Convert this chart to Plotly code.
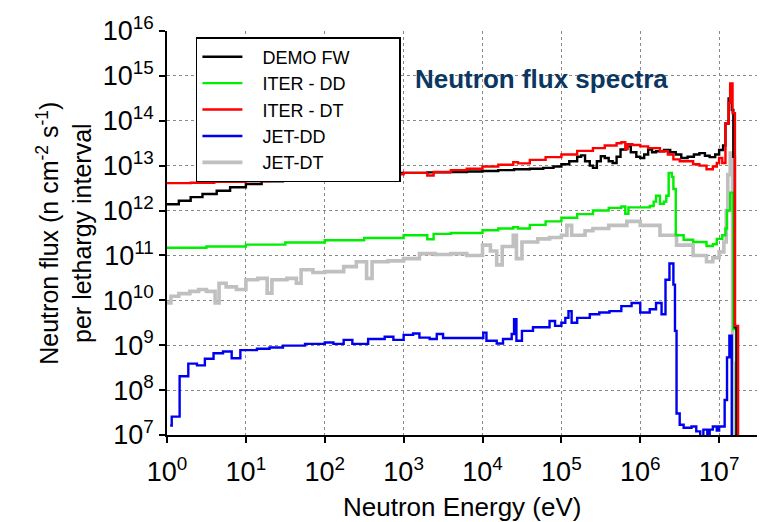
import numpy as np
import plotly.graph_objects as go

# ---- data (log10 of energy in eV, log10 of flux) ----
demo_logE = [0.0, 0.15, 0.3, 0.45, 0.63, 0.8, 1.0, 1.2, 1.47, 1.7, 2.0, 2.3, 2.6, 3.0, 3.3, 3.59, 3.8, 4.0,
             4.2, 4.4, 4.6, 4.77, 4.9, 5.0, 5.1, 5.2, 5.25, 5.3, 5.36, 5.4, 5.45, 5.5, 5.55, 5.6, 5.65, 5.7,
             5.75, 5.82, 5.88, 5.95, 6.0, 6.05, 6.1, 6.15, 6.2, 6.3, 6.38, 6.45, 6.52, 6.6, 6.68, 6.75, 6.82,
             6.88, 6.95, 7.0, 7.05, 7.08, 7.12, 7.14, 7.16, 7.18, 7.2, 7.22]
demo_logF = [12.14, 12.22, 12.3, 12.37, 12.44, 12.52, 12.59, 12.65, 12.72, 12.77, 12.81, 12.83, 12.84, 12.84,
             12.85, 12.86, 12.87, 12.88, 12.9, 12.92, 12.93, 12.95, 12.98, 13.03, 13.1, 13.2, 13.23, 13.1,
             13.0, 12.95, 13.1, 13.21, 13.17, 13.1, 13.06, 13.2, 13.36, 13.43, 13.3, 13.2, 13.17, 13.25,
             13.36, 13.3, 13.32, 13.35, 13.3, 13.25, 13.17, 13.2, 13.25, 13.28, 13.22, 13.19, 13.25, 13.35,
             13.45, 13.94, 14.5, 14.81, 14.24, 13.2, 9.4, 6.5]

iterdd_logE = [0.0, 0.5, 1.0, 1.5, 2.0, 2.5, 3.0, 3.3, 3.38, 3.6, 4.0, 4.2, 4.39, 4.45, 4.6, 4.8, 5.0, 5.2,
               5.4, 5.6, 5.76, 5.81, 5.85, 6.0, 6.12, 6.17, 6.2, 6.25, 6.3, 6.33, 6.36, 6.4, 6.42, 6.45, 6.55,
               6.67, 6.84, 6.92, 6.97, 7.04, 7.08, 7.1, 7.14, 7.18, 7.22]
iterdd_logF = [11.17, 11.2, 11.24, 11.29, 11.34, 11.39, 11.45, 11.36, 11.48, 11.5, 11.56, 11.6, 11.63, 11.6,
               11.68, 11.76, 11.84, 11.92, 12.0, 12.06, 12.09, 11.93, 12.07, 12.07, 12.1, 12.2, 12.33, 12.15,
               12.2, 12.33, 12.84, 12.75, 12.48, 11.45, 11.35, 11.3, 11.21, 11.25, 11.37, 11.45, 11.6, 12.0,
               12.4, 9.36, 6.5]

iterdt_logE = [0.0, 0.3, 0.6, 1.0, 1.3, 1.6, 2.0, 2.3, 2.6, 3.0, 3.3, 3.38, 3.6, 3.8, 4.0, 4.2, 4.39, 4.45,
               4.6, 4.8, 5.0, 5.2, 5.4, 5.55, 5.7, 5.76, 5.81, 5.84, 5.9, 6.0, 6.1, 6.25, 6.35, 6.42, 6.5, 6.67,
               6.75, 6.84, 6.92, 6.97, 7.0, 7.04, 7.08, 7.12, 7.14, 7.17, 7.2, 7.24]
iterdt_logF = [12.61, 12.62, 12.64, 12.66, 12.69, 12.72, 12.75, 12.78, 12.81, 12.84, 12.78, 12.86, 12.9,
               12.93, 12.98, 13.02, 13.08, 13.05, 13.13, 13.19, 13.25, 13.33, 13.39, 13.45, 13.5, 13.52,
               13.37, 13.48, 13.46, 13.43, 13.39, 13.32, 13.25, 13.14, 13.1, 13.03, 13.0, 12.92, 12.98,
               13.06, 13.17, 13.06, 13.94, 14.4, 14.83, 14.17, 9.43, 6.5]

jetdd_logE = [0.04, 0.06, 0.16, 0.27, 0.38, 0.48, 0.59, 0.71, 0.82, 0.93, 1.14, 1.3, 1.47, 1.75, 2.0, 2.11,
              2.24, 2.35, 2.55, 2.76, 2.87, 3.0, 3.12, 3.2, 3.33, 3.42, 3.5, 3.7, 4.01, 4.05, 4.18, 4.26,
              4.37, 4.4, 4.43, 4.5, 4.64, 4.85, 4.92, 5.0, 5.05, 5.09, 5.13, 5.2, 5.36, 5.48, 5.61, 5.76,
              5.89, 6.0, 6.12, 6.2, 6.27, 6.32, 6.37, 6.42, 6.44, 6.46, 6.5, 6.55, 6.65, 6.71, 6.76, 6.8,
              6.85, 6.88, 6.92, 6.97, 7.0, 7.07, 7.1, 7.13, 7.16]
jetdd_logF = [7.21, 7.41, 8.31, 8.59, 8.55, 8.70, 8.82, 8.86, 8.71, 8.89, 8.92, 8.95, 8.99, 9.03, 9.06, 9.03,
              9.12, 9.03, 9.14, 9.19, 9.12, 9.23, 9.26, 9.17, 9.14, 9.25, 9.16, 9.16, 9.28, 9.10, 9.04, 9.14,
              9.25, 9.58, 9.10, 9.32, 9.40, 9.54, 9.43, 9.50, 9.61, 9.76, 9.50, 9.61, 9.69, 9.73, 9.76, 9.87,
              9.94, 9.73, 9.80, 9.94, 9.69, 10.46, 10.82, 10.35, 9.32, 7.48, 7.23, 7.16, 7.19, 7.08, 6.9,
              7.12, 6.95, 7.12, 7.19, 7.1, 7.19, 7.78, 8.73, 9.21, 6.5]

jetdt_logE = [0.0, 0.05, 0.15, 0.29, 0.4, 0.5, 0.61, 0.66, 0.75, 0.88, 1.0, 1.15, 1.27, 1.33, 1.52, 1.64,
              1.7, 1.85, 2.0, 2.24, 2.4, 2.53, 2.6, 2.8, 3.0, 3.2, 3.4, 3.6, 3.8, 4.0, 4.1, 4.18, 4.25, 4.39,
              4.43, 4.5, 4.7, 4.85, 5.0, 5.07, 5.13, 5.3, 5.4, 5.6, 5.83, 6.0, 6.25, 6.46, 6.67, 6.84, 6.92,
              7.0, 7.06, 7.09, 7.11, 7.14, 7.17, 7.2]
jetdt_logF = [9.94, 10.09, 10.15, 10.2, 10.24, 10.2, 9.94, 10.38, 10.3, 10.24, 10.46, 10.49, 10.16, 10.46,
              10.49, 10.38, 10.68, 10.62, 10.64, 10.75, 10.86, 10.49, 10.86, 10.88, 10.93, 11.04, 11.02,
              11.04, 11.0, 11.23, 11.1, 10.79, 11.2, 11.45, 10.93, 11.3, 11.37, 11.4, 11.45, 11.67, 11.45,
              11.55, 11.6, 11.67, 11.76, 11.67, 11.45, 11.23, 11.0, 10.86, 10.95, 11.08, 11.3, 12.0, 12.8,
              13.28, 8.59, 6.5]

x_tick_exp = [0, 1, 2, 3, 4, 5, 6, 7]
y_tick_exp = [7, 8, 9, 10, 11, 12, 13, 14, 15, 16]

FONT = "Liberation Sans, Arial, Helvetica, sans-serif"
PADL = "\u00a0" * 3
PADR = "\u00a0" * 9

series = [
    # name, logE, logF, color, width, legend rank
    ("JET-DT", jetdt_logE, jetdt_logF, "#c0c0c0", 3.6, 5),
    ("JET-DD", jetdd_logE, jetdd_logF, "#0000f0", 2.4, 4),
    ("ITER - DD", iterdd_logE, iterdd_logF, "#00ee00", 2.4, 2),
    ("DEMO FW", demo_logE, demo_logF, "#000000", 2.4, 1),
    ("ITER - DT", iterdt_logE, iterdt_logF, "#ff0000", 2.4, 3),
]

fig = go.Figure()
for name, le, lf, col, w, rank in series:
    fig.add_trace(go.Scatter(
        x=np.power(10.0, le), y=np.power(10.0, lf), mode="lines", name=PADL + name + PADR,
        line=dict(color=col, width=w, shape="hv"), legendrank=rank,
    ))

xt = [10.0 ** e for e in x_tick_exp]
yt = [10.0 ** e for e in y_tick_exp]
minor_x = [m * 10.0 ** e for e in range(0, 8) for m in range(2, 10)]
minor_y = [m * 10.0 ** e for e in range(7, 16) for m in range(2, 10)]

xr = [0, 7.48]
yr = [7, 16]

fig.update_layout(
    width=769, height=522,
    margin=dict(l=167, r=12, t=27, b=87),
    paper_bgcolor="white", plot_bgcolor="white",
    font=dict(family=FONT, color="black"),
    showlegend=True,
    legend=dict(x=0.049, y=0.985, xanchor="left", yanchor="top",
                bgcolor="white", bordercolor="black", borderwidth=1.5,
                font=dict(size=18, family=FONT), itemwidth=40, traceorder="normal"),
    xaxis=dict(type="log", range=xr, tickmode="array", tickvals=xt,
               ticktext=[f"10<sup>{e}</sup>" for e in x_tick_exp],
               tickfont=dict(size=27), ticks="outside", ticklen=6, tickwidth=1.5,
               ticklabelstandoff=6,
               tickcolor="black", showline=True, linecolor="black", linewidth=1.5,
               showgrid=True, gridcolor="#8a8a8a", griddash="dot", gridwidth=1,
               zeroline=False),
    yaxis=dict(type="log", range=yr, tickmode="array", tickvals=yt,
               ticktext=[f"10<sup>{e}</sup>" for e in y_tick_exp],
               tickfont=dict(size=27), ticks="outside", ticklen=6, tickwidth=1.5,
               tickcolor="black", showline=True, linecolor="black", linewidth=1.5,
               showgrid=True, gridcolor="#8a8a8a", griddash="dot", gridwidth=1,
               zeroline=False),
    xaxis2=dict(type="log", range=xr, overlaying="x", anchor="y2", side="bottom",
                tickmode="array", tickvals=xt, showticklabels=False,
                ticks="inside", ticklen=9, tickwidth=1.5, tickcolor="black",
                minor=dict(tickmode="array", tickvals=minor_x, ticks="inside", ticklen=5,
                           tickcolor="black", tickwidth=1, showgrid=False),
                showline=True, linecolor="black", linewidth=1.5, mirror="ticks",
                showgrid=False, zeroline=False),
    yaxis2=dict(type="log", range=yr, overlaying="y", anchor="x2", side="left",
                tickmode="array", tickvals=yt, showticklabels=False,
                ticks="inside", ticklen=9, tickwidth=1.5, tickcolor="black",
                minor=dict(tickmode="array", tickvals=minor_y, ticks="inside", ticklen=5,
                           tickcolor="black", tickwidth=1, showgrid=False),
                showline=True, linecolor="black", linewidth=1.5, mirror="ticks",
                showgrid=False, zeroline=False),
)

fig.add_annotation(text="<b>Neutron flux spectra</b>", xref="paper", yref="paper",
                   x=0.634, y=0.882, xanchor="center", yanchor="middle", showarrow=False,
                   font=dict(size=26, color="#0b3761", family=FONT))
fig.add_annotation(text="Neutron Energy (eV)", xref="paper", yref="paper",
                   x=0.5, y=-0.178, xanchor="center", yanchor="middle", showarrow=False,
                   font=dict(size=26, color="black", family=FONT))
fig.add_annotation(text="Neutron flux (n cm<sup>-2</sup> s<sup>-1</sup>)<br>per lethargy interval",
                   xref="paper", yref="paper", x=-0.175, y=0.5, xanchor="center", yanchor="middle",
                   textangle=-90, showarrow=False,
                   font=dict(size=25, color="black", family=FONT))

fig.write_html("out.html")
